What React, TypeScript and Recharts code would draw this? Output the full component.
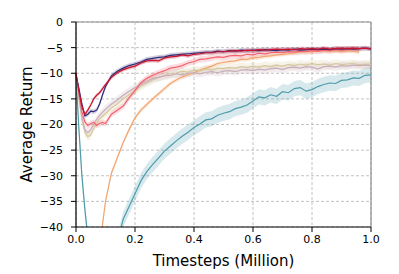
import React from "react";
import {
  Area,
  CartesianGrid,
  ComposedChart,
  Line,
  ReferenceLine,
  XAxis,
  YAxis,
} from "recharts";

// timesteps in millions
const xs = [
  0, 0.01, 0.02, 0.03, 0.04, 0.05, 0.06, 0.07, 0.08, 0.09, 0.1, 0.12, 0.14, 0.16, 0.18, 0.2, 0.22, 0.24,
  0.26, 0.28, 0.3, 0.32, 0.34, 0.36, 0.38, 0.4, 0.42, 0.44, 0.46, 0.48, 0.5, 0.52, 0.54, 0.56, 0.58, 0.6,
  0.62, 0.64, 0.66, 0.68, 0.7, 0.72, 0.74, 0.76, 0.78, 0.8, 0.82, 0.84, 0.86, 0.88, 0.9, 0.92, 0.94, 0.96,
  0.98, 1.0,
];

const navy = [
  -10.3, -13, -16, -18.3, -18.0, -17.4, -17.5, -17.2, -16.0, -14.2, -12.6, -10.5, -9.6, -9.0, -8.5, -8.2,
  -7.8, -7.3, -7.1, -6.9, -6.8, -6.5, -6.4, -6.3, -6.2, -6.1, -6.0, -5.9, -5.9, -5.7, -5.8, -5.6, -5.7,
  -5.5, -5.6, -5.5, -5.6, -5.4, -5.5, -5.6, -5.4, -5.5, -5.3, -5.5, -5.4, -5.3, -5.4, -5.3, -5.4, -5.2,
  -5.3, -5.2, -5.3, -5.2, -5.1, -5.3,
];

const red = [
  -10.0, -13.5, -16.5, -18.0, -17.2, -16.2, -15.0, -14.3, -13.8, -13.0, -12.2, -10.8, -9.9, -9.3, -8.9,
  -8.6, -8.0, -7.6, -7.5, -7.6, -7.0, -6.8, -6.7, -6.4, -6.6, -6.3, -6.2, -6.0, -6.0, -5.8, -5.8, -5.7,
  -5.6, -5.7, -5.5, -5.6, -5.4, -5.5, -5.4, -5.3, -5.4, -5.3, -5.4, -5.2, -5.3, -5.2, -5.3, -5.1, -5.3,
  -5.2, -5.1, -5.2, -5.1, -5.2, -5.1, -5.2,
];

const pink = [
  -10.0, -14, -17.5, -19.5, -20.2, -19.8, -19.6, -20.2, -19.8, -19.6, -19.8, -18.0, -17.2, -16.4, -14.8,
  -13.4, -11.9, -11.0, -10.4, -9.9, -9.5, -9.0, -8.8, -8.5, -8.0, -7.7, -7.3, -7.2, -7.0, -6.8, -6.9,
  -6.6, -6.5, -6.6, -6.3, -6.4, -6.1, -6.2, -6.0, -5.9, -6.0, -5.8, -5.9, -5.7, -5.8, -5.6, -5.7, -5.5,
  -5.6, -5.4, -5.5, -5.4, -5.3, -5.4, null, null,
];

const tan = [
  -10.0, -15, -19, -21.5, -22.4, -22.0, -20.8, -19.8, -18.9, -18.4, -17.9, -16.8, -16.0, -15.0, -14.2,
  -13.4, -12.5, -11.9, -11.3, -10.8, -10.4, -10.1, -10.0, -9.6, -9.8, -9.4, -9.5, -9.2, -9.4, -9.0, -9.1,
  -8.9, -9.0, -8.7, -8.9, -8.6, -8.8, -8.5, -8.7, -8.4, -8.6, -8.3, -8.5, -8.2, -8.4, -8.1, -8.3, -8.2,
  -8.4, -8.1, -8.3, -8.2, -8.1, -8.3, -8.2, -8.2,
];

const mauve = [
  -10.0, -14.5, -18.5, -21.0, -21.6, -21.0, -20.0, -19.0, -18.2, -17.6, -17.0, -16.0, -15.2, -14.3,
  -13.5, -12.8, -12.2, -11.6, -11.0, -10.8, -10.5, -10.4, -10.1, -10.3, -10.0, -9.9, -10.1, -9.8, -9.7,
  -9.9, -9.6, -9.5, -9.7, -9.4, -9.3, -9.5, -9.2, -9.4, -9.1, -9.0, -9.3, -8.9, -8.8, -9.0, -8.7, -8.8,
  -9.2, -8.7, -8.6, -8.8, -8.5, -8.6, -8.4, -8.5, -8.4, -8.5,
];

const orange = [
  null, null, null, null, null, null, null, null, -45, -39.5, -35, -29.5, -26.5, -23.5, -21, -18.7, -17.2,
  -16.1, -15.0, -14.0, -13.0, -12.0, -11.3, -10.7, -10.3, -9.9, -9.4, -9.0, -8.6, -8.1, -7.9, -7.7, -7.6,
  -7.3, -7.3, -7.0, -6.9, -6.7, -6.6, -6.4, -6.3, -6.2, -6.0, -5.9, -5.8, -5.8, -5.7, -5.6, -5.7, -5.6,
  -5.8, -5.6, -5.7, -5.9, null, null,
];

const teal = [
  -10.5, -21, -30, -36.5, -42, -48, null, null, null, null, null, null, -43, -38.5, -36, -33.5, -31.0,
  -29.2, -27.8, -26.5, -25.2, -24.2, -23.2, -22.3, -21.5, -20.6, -19.9, -19.1, -18.9, -18.2, -17.8, -17.5,
  -16.9, -16.6, -16.2, -15.4, -14.6, -14.8, -14.2, -14.5, -13.6, -13.8, -13.0, -12.8, -13.5, -13.2, -12.6,
  -12.2, -11.9, -12.0, -11.4, -11.3, -10.9, -11.0, -10.4, -10.3,
];

// shaded band half-width per run, same order as below
const spreads = [0.45, 0.4, 0.6, 0.8, 0.75, 0.45, 1.5];

const xTicks = [0, 0.2, 0.4, 0.6, 0.8, 1.0];
const yTicks = [-40, -35, -30, -25, -20, -15, -10, -5, 0];

const series = [
  { key: "teal", values: teal, color: "#4e9cab" },
  { key: "orange", values: orange, color: "#f2a46f" },
  { key: "tan", values: tan, color: "#d4c99a" },
  { key: "mauve", values: mauve, color: "#c8aebb" },
  { key: "pink", values: pink, color: "#f2636f" },
  { key: "navy", values: navy, color: "#2f2b78" },
  { key: "red", values: red, color: "#c8142c" },
];
const spreadOf: Record<string, number> = {
  navy: spreads[0],
  red: spreads[1],
  pink: spreads[2],
  tan: spreads[3],
  mauve: spreads[4],
  orange: spreads[5],
  teal: spreads[6],
};

const rows = xs.map((x, i) => {
  const r: any = { x };
  series.forEach((s) => {
    const v = s.values[i];
    const d = spreadOf[s.key];
    r[s.key] = v;
    r[s.key + "Band"] = v == null ? null : [v - d, v + d];
  });
  return r;
});

const font = "'DejaVu Sans', sans-serif";
const fmtY = (v: number) => (v < 0 ? `\u2212${-v}` : `${v}`);

export default function App() {
  return (
    <div style={{ position: "absolute", left: 0, top: 0, background: "#fff" }}>
      <ComposedChart
        width={399}
        height={274}
        data={rows}
        margin={{ top: 22, right: 28, bottom: 0, left: 0 }}
      >
        <CartesianGrid stroke="#b3b3b3" strokeDasharray="3 2" strokeWidth={0.8} />
        <XAxis
          dataKey="x"
          type="number"
          domain={[0, 1]}
          ticks={xTicks}
          tickFormatter={(v: number) => v.toFixed(1)}
          height={47}
          axisLine={{ stroke: "#000", strokeWidth: 1.2 }}
          tickLine={{ stroke: "#000" }}
          tickSize={5}
          tickMargin={3}
          tick={{ fontSize: 11, fill: "#000", fontFamily: font }}
          label={{
            value: "Timesteps (Million)",
            position: "insideBottom",
            offset: 8,
            style: { fontSize: 15, fill: "#000", fontFamily: font },
          }}
        />
        <YAxis
          type="number"
          domain={[-40, 0]}
          ticks={yTicks}
          allowDataOverflow
          tickFormatter={fmtY}
          width={76}
          axisLine={{ stroke: "#000", strokeWidth: 1.2 }}
          tickLine={{ stroke: "#000" }}
          tickSize={5}
          tickMargin={8}
          tick={{ fontSize: 11, fill: "#000", fontFamily: font }}
          label={{
            value: "Average Return",
            angle: -90,
            position: "insideLeft",
            offset: 27,
            style: { fontSize: 15, fill: "#000", fontFamily: font, textAnchor: "middle" },
          }}
        />
        <ReferenceLine y={0} stroke="#8c8c8c" strokeWidth={1.2} />
        <ReferenceLine x={1} stroke="#8c8c8c" strokeWidth={1.2} />
        {series.map((s) => (
          <Area
            key={s.key + "Band"}
            dataKey={s.key + "Band"}
            type="linear"
            fill={s.color}
            fillOpacity={0.22}
            stroke="none"
            isAnimationActive={false}
            activeDot={false}
            legendType="none"
          />
        ))}
        {series.map((s) => (
          <Line
            key={s.key}
            dataKey={s.key}
            type="linear"
            stroke={s.color}
            strokeWidth={1.2}
            dot={false}
            activeDot={false}
            isAnimationActive={false}
            legendType="none"
          />
        ))}
      </ComposedChart>
    </div>
  );
}
